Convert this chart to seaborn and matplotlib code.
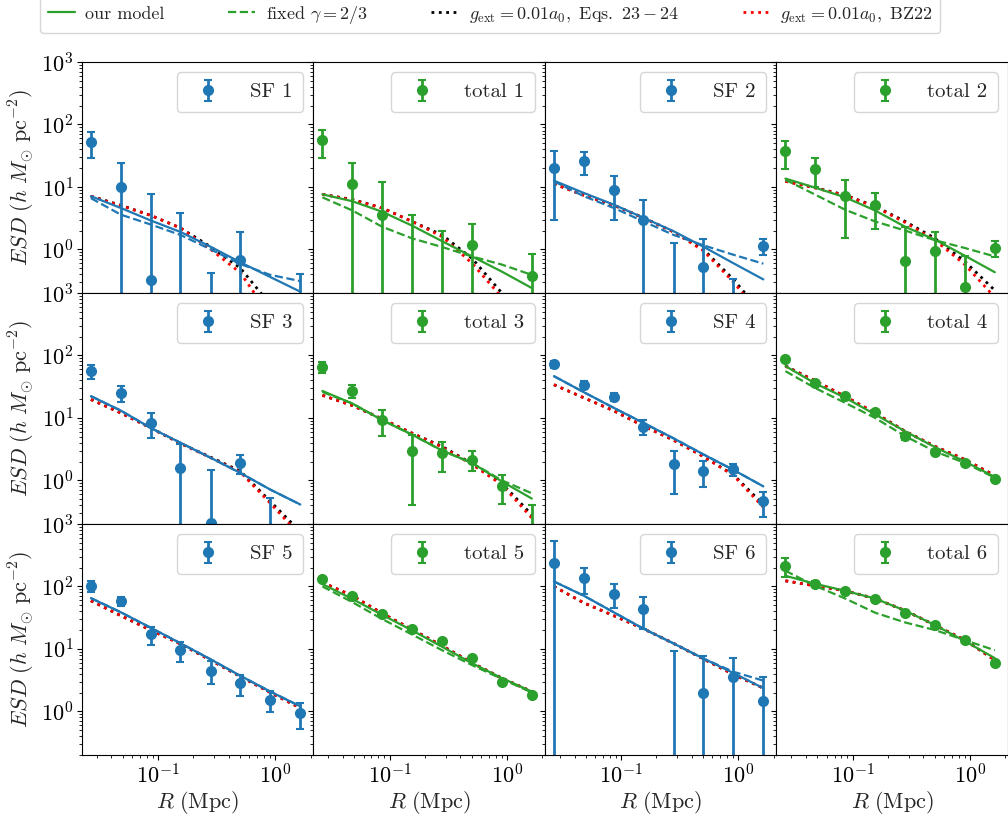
import numpy as np
import matplotlib
matplotlib.use('Agg')
import matplotlib.pyplot as plt
from matplotlib.lines import Line2D
import seaborn as sns

# radial bins (Mpc)
R = [0.0267, 0.0480, 0.0864, 0.155, 0.280, 0.503, 0.905, 1.63]

# ---- measured ESD + errors, and the four model curves, per sample ----
sf1_esd = [52, 9.9, 0.32, 0.1, 0.1, 0.67, 0.1, 0.1]
sf1_err = [23, 14.5, 7.5, 3.7, 0.32, 1.25, 0.05, 0.31]
sf1_model = [7.1, 4.6, 2.9, 1.9, 1.1, 0.62, 0.36, 0.21]
sf1_fixed = [6.6, 3.6, 2.5, 1.7, 1.0, 0.58, 0.39, 0.31]
sf1_eqs = [7.1, 5.1, 3.5, 2.2, 1.1, 0.5, 0.13, 0.03]
sf1_bz22 = [7.1, 5.0, 3.5, 2.2, 1.0, 0.42, 0.085, 0.02]

tot1_esd = [56, 11.2, 3.5, 0.1, 0.1, 1.16, 0.1, 0.38]
tot1_err = [27, 13, 8.4, 3.5, 1.9, 1.35, 0.05, 0.46]
tot1_model = [7.6, 5.9, 4.0, 2.4, 1.35, 0.77, 0.44, 0.24]
tot1_fixed = [6.8, 4.2, 2.3, 1.5, 1.09, 0.77, 0.57, 0.39]
tot1_eqs = [7.6, 6.3, 4.6, 2.8, 1.7, 0.72, 0.2, 0.05]
tot1_bz22 = [7.6, 6.2, 4.6, 2.8, 1.6, 0.6, 0.17, 0.04]

sf2_esd = [20, 25.6, 8.9, 3.0, 0.1, 0.52, 0.1, 1.12]
sf2_err = [17, 10, 6, 3.1, 1.16, 0.94, 0.23, 0.32]
sf2_model = [12.6, 8.0, 5.2, 3.2, 1.95, 1.1, 0.6, 0.33]
sf2_fixed = [12.3, 7.1, 4.6, 2.8, 1.7, 1.16, 0.82, 0.59]
sf2_eqs = [11.2, 7.4, 5.1, 3.2, 1.9, 1.0, 0.33, 0.09]
sf2_bz22 = [11.2, 7.3, 5.1, 3.2, 1.9, 0.95, 0.3, 0.08]

tot2_esd = [37, 19.5, 7.1, 5.1, 0.66, 0.95, 0.25, 1.05]
tot2_err = [18, 9.5, 5.6, 3.0, 1.6, 0.95, 0.54, 0.3]
tot2_model = [13.6, 9.7, 6.8, 4.2, 2.3, 1.43, 0.79, 0.43]
tot2_fixed = [13.0, 7.5, 4.3, 2.8, 2.0, 1.4, 1.05, 0.77]
tot2_eqs = [12.3, 9.7, 7.4, 4.9, 2.8, 1.5, 0.64, 0.22]
tot2_bz22 = [12.3, 9.6, 7.3, 4.8, 2.7, 1.4, 0.57, 0.17]

sf3_esd = [56, 25, 8.3, 1.6, 0.21, 1.92, 0.1, 0.1]
sf3_err = [14, 7, 3.6, 2.2, 1.27, 0.65, 0.42, 0.05]
sf3_model = [22.3, 13.1, 6.9, 4.0, 2.3, 1.31, 0.71, 0.41]
sf3_fixed = [22.3, 13.1, 6.9, 4.0, 2.3, 1.31, 0.71, 0.41]
sf3_eqs = [19.7, 12, 6.9, 3.9, 2.35, 1.4, 0.46, 0.15]
sf3_bz22 = [19.7, 12, 6.9, 3.9, 2.3, 1.35, 0.43, 0.13]

tot3_esd = [66, 27, 9.4, 2.9, 2.7, 2.15, 0.82, 0.1]
tot3_err = [13, 6.5, 4.2, 2.5, 1.35, 0.75, 0.4, 0.31]
tot3_model = [27, 17, 9.2, 5.4, 3.0, 1.9, 0.96, 0.51]
tot3_fixed = [26, 17, 9.2, 5.4, 3.0, 1.9, 1.0, 0.62]
tot3_eqs = [23, 15.8, 9.6, 5.7, 3.5, 1.85, 0.9, 0.28]
tot3_bz22 = [23, 15.8, 9.6, 5.7, 3.4, 1.8, 0.85, 0.25]

sf4_esd = [72, 34, 21.7, 7.2, 1.8, 1.43, 1.52, 0.46]
sf4_err = [8, 5.5, 3, 1.9, 1.2, 0.64, 0.33, 0.2]
sf4_model = [46.6, 25.8, 14.5, 8.3, 4.7, 2.6, 1.47, 0.8]
sf4_fixed = [46.6, 25.8, 14.5, 8.3, 4.7, 2.6, 1.47, 0.8]
sf4_eqs = [34, 21, 13, 7.4, 4.4, 2.4, 1.23, 0.41]
sf4_bz22 = [34, 21, 13, 7.4, 4.4, 2.4, 1.2, 0.37]

tot4_esd = [88.5, 36.5, 22.3, 12.3, 5.1, 2.8, 1.9, 1.06]
tot4_err = [5, 2.5, 1.5, 1.0, 0.6, 0.3, 0.2, 0.08]
tot4_model = [67.5, 35.6, 21, 11.4, 6.1, 3.4, 2.0, 1.13]
tot4_fixed = [56, 30, 17.4, 10, 5.1, 2.9, 1.9, 1.1]
tot4_eqs = [68, 39, 22, 12, 6.1, 3.5, 2.15, 1.19]
tot4_bz22 = [67, 39, 22, 12, 6.1, 3.5, 2.15, 1.19]

sf5_esd = [102, 58, 17.1, 9.5, 4.5, 2.8, 1.53, 0.94]
sf5_err = [21, 9.5, 5.7, 3.3, 1.8, 1.05, 0.56, 0.42]
sf5_model = [65, 38.6, 21.8, 12.3, 6.8, 3.7, 2.07, 1.2]
sf5_fixed = [65, 38.6, 21.8, 12.3, 6.8, 3.7, 2.07, 1.2]
sf5_eqs = [59, 34, 20, 12, 6.6, 3.6, 2.0, 1.13]
sf5_bz22 = [59, 34, 20, 12, 6.6, 3.6, 2.0, 1.13]

tot5_esd = [131, 69, 35.6, 20.5, 13.2, 7.2, 2.9, 1.84]
tot5_err = [8, 4, 2, 1.2, 0.8, 0.4, 0.2, 0.12]
tot5_model = [109, 63, 35, 19.8, 10.8, 5.9, 3.4, 2.07]
tot5_fixed = [100, 56, 30, 17, 9.5, 5.5, 3.3, 2.0]
tot5_eqs = [116, 71, 37, 20.5, 11.2, 6.0, 3.4, 2.07]
tot5_bz22 = [116, 71, 37, 20.5, 11.2, 6.0, 3.4, 2.07]

sf6_esd = [240, 136, 77, 44, 0.1, 2.0, 3.6, 1.44]
sf6_err = [290, 60, 32, 23, 9.1, 5.7, 3.5, 2.1]
sf6_model = [120, 71, 38.6, 21, 12.2, 7.0, 4.1, 2.35]
sf6_fixed = [120, 71, 38.6, 21, 12.2, 7.0, 4.3, 3.1]
sf6_eqs = [100, 54.5, 34, 21, 12.2, 6.9, 3.9, 2.35]
sf6_bz22 = [100, 54.5, 34, 21, 12.2, 6.9, 3.9, 2.35]

tot6_esd = [213, 110, 85, 62, 37, 24, 13.8, 5.9]
tot6_err = [70, 10, 5, 3, 2, 1.2, 0.8, 0.4]
tot6_model = [148, 110, 85, 64, 41, 24, 13.3, 7.1]
tot6_fixed = [178, 102, 64, 38, 26.5, 20, 13.8, 9.5]
tot6_eqs = [123, 102, 85, 64, 41, 24, 13.8, 6.6]
tot6_bz22 = [123, 102, 85, 64, 41, 24, 13.8, 6.6]

names = ['SF 1', 'total 1', 'SF 2', 'total 2',
         'SF 3', 'total 3', 'SF 4', 'total 4',
         'SF 5', 'total 5', 'SF 6', 'total 6']

panels = [
    (sf1_esd, sf1_err, sf1_model, sf1_fixed, sf1_eqs, sf1_bz22),
    (tot1_esd, tot1_err, tot1_model, tot1_fixed, tot1_eqs, tot1_bz22),
    (sf2_esd, sf2_err, sf2_model, sf2_fixed, sf2_eqs, sf2_bz22),
    (tot2_esd, tot2_err, tot2_model, tot2_fixed, tot2_eqs, tot2_bz22),
    (sf3_esd, sf3_err, sf3_model, sf3_fixed, sf3_eqs, sf3_bz22),
    (tot3_esd, tot3_err, tot3_model, tot3_fixed, tot3_eqs, tot3_bz22),
    (sf4_esd, sf4_err, sf4_model, sf4_fixed, sf4_eqs, sf4_bz22),
    (tot4_esd, tot4_err, tot4_model, tot4_fixed, tot4_eqs, tot4_bz22),
    (sf5_esd, sf5_err, sf5_model, sf5_fixed, sf5_eqs, sf5_bz22),
    (tot5_esd, tot5_err, tot5_model, tot5_fixed, tot5_eqs, tot5_bz22),
    (sf6_esd, sf6_err, sf6_model, sf6_fixed, sf6_eqs, sf6_bz22),
    (tot6_esd, tot6_err, tot6_model, tot6_fixed, tot6_eqs, tot6_bz22),
]

####################################################
sns.set_style('ticks')
plt.rcParams['font.family'] = ['cmr10', 'DejaVu Serif']
plt.rcParams['mathtext.fontset'] = 'cm'
plt.rcParams['axes.formatter.use_mathtext'] = True
plt.rcParams['axes.unicode_minus'] = True
plt.rcParams['axes.edgecolor'] = 'black'
plt.rcParams['xtick.color'] = 'black'
plt.rcParams['ytick.color'] = 'black'

pal = sns.color_palette('tab10')
blue = pal[0]
green = pal[2]

fig, axes = plt.subplots(3, 4, sharex=True, sharey=True, figsize=(10.08, 8.16), dpi=100)
fig.subplots_adjust(left=0.0813, right=1.0, top=0.924, bottom=0.0748, wspace=0, hspace=0)

for i, ax in enumerate(axes.flat):
    esd, err, model, fixed, eqs, bz22 = panels[i]
    c = blue if names[i].startswith('SF') else green
    sns.lineplot(x=R, y=eqs, ax=ax, color='black', linestyle=':', linewidth=2, sort=False)
    sns.lineplot(x=R, y=bz22, ax=ax, color='red', linestyle=':', linewidth=2, sort=False)
    sns.lineplot(x=R, y=fixed, ax=ax, color=c, linestyle='--', linewidth=1.6, sort=False)
    sns.lineplot(x=R, y=model, ax=ax, color=c, linestyle='-', linewidth=1.6, sort=False)
    h = ax.errorbar(R, esd, yerr=err, fmt='o', color=c, markersize=7,
                    elinewidth=2, capsize=3, capthick=1.5)
    ax.set_xscale('log')
    ax.set_yscale('log')
    ax.legend(handles=[h], labels=[names[i]], loc='upper right', fontsize=15,
              frameon=True, borderpad=0.5, handletextpad=1.0)
    ax.tick_params(which='both', right=True, direction='out', labelsize=16, pad=2.5)
    ax.tick_params(which='major', length=3.5, width=0.8)
    ax.tick_params(which='minor', length=2, width=0.6)
    ax.set_xlabel('')
    ax.set_ylabel('')

axes[0, 0].set_xlim(0.0224, 2.11)
axes[0, 0].set_ylim(0.2, 1000)

for ax in axes[:, 0]:
    ax.set_ylabel(r'$ESD\ (h\ M_{\odot}\ \mathrm{pc}^{-2})$', fontsize=16, labelpad=3)
for ax in axes[-1, :]:
    ax.set_xlabel(r'$R\ (\mathrm{Mpc})$', fontsize=16, labelpad=1)

handles = [Line2D([], [], color=green, linestyle='-', linewidth=1.6),
           Line2D([], [], color=green, linestyle='--', linewidth=1.6),
           Line2D([], [], color='black', linestyle=':', linewidth=2),
           Line2D([], [], color='red', linestyle=':', linewidth=2)]
labels = ['our model', r'fixed $\gamma=2/3$',
          r'$g_{\rm ext}=0.01a_0,\ {\rm Eqs.\ 23-24}$',
          r'$g_{\rm ext}=0.01a_0,\ {\rm BZ22}$']
fig.legend(handles, labels, loc='lower left', bbox_to_anchor=(0.040, 0.9596),
           ncol=4, fontsize=13, frameon=True, columnspacing=3.5,
           handlelength=1.5, handletextpad=0.6, borderaxespad=0)

plt.savefig('out.png', dpi=100)
